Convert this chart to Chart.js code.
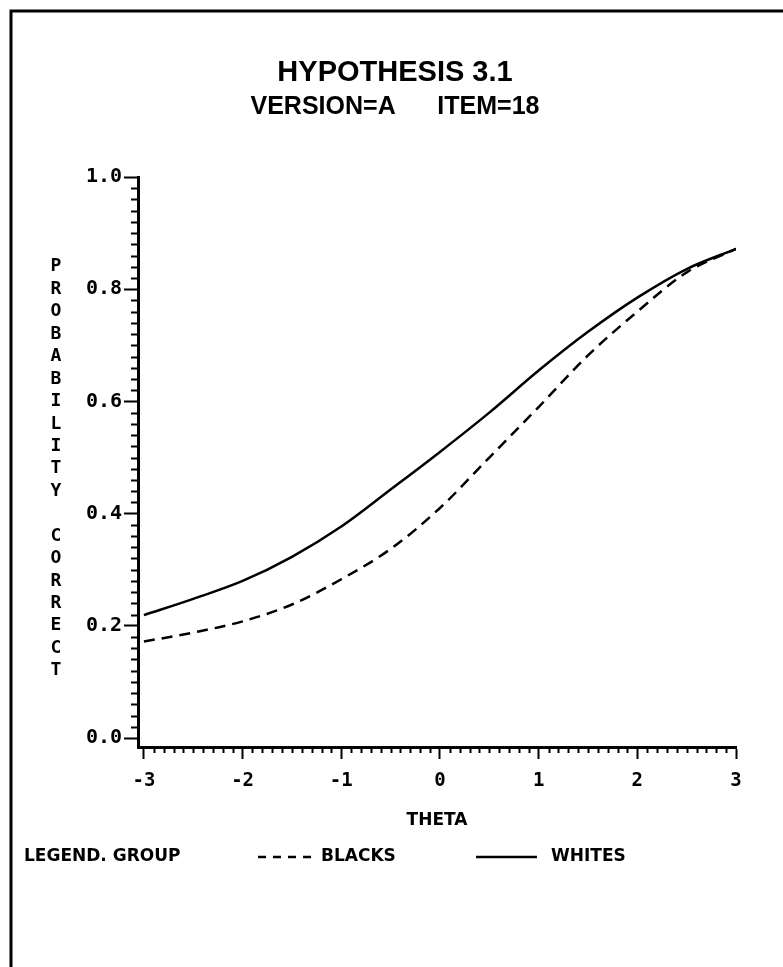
<!DOCTYPE html>
<html>
<head>
<meta charset="utf-8">
<title>Hypothesis 3.1</title>
<script src="https://cdn.jsdelivr.net/npm/chart.js@4.4.0/dist/chart.umd.min.js"></script>
<style>
  html, body { margin: 0; padding: 0; background: #fff; }
  #wrap { width: 783px; height: 967px; }
</style>
</head>
<body>
<div id="wrap"><canvas id="iccChart" width="783" height="967"></canvas></div>
<script>
// Item characteristic curves (theta vs probability correct)
const thetaValues = [-3, -2.5, -2, -1.5, -1, -0.5, 0, 0.5, 1, 1.5, 2, 2.5, 3];
const blacksProb  = [0.172, 0.188, 0.208, 0.238, 0.283, 0.337, 0.41, 0.50, 0.59, 0.682, 0.76, 0.83, 0.872];
const whitesProb  = [0.219, 0.248, 0.280, 0.323, 0.377, 0.443, 0.51, 0.58, 0.655, 0.724, 0.785, 0.836, 0.872];

const xTickValues = [-3, -2, -1, 0, 1, 2, 3];
const yTickValues = [0, 0.2, 0.4, 0.6, 0.8, 1.0];

const titleText = 'HYPOTHESIS 3.1';
const subtitleText = 'VERSION=A      ITEM=18';
const xTitleText = 'THETA';
const yTitleText = 'PROBABILITY CORRECT';
const legendTitle = 'LEGEND. GROUP';
const groupNames = ['BLACKS', 'WHITES'];

const MONO = '"DejaVu Sans Mono", monospace';
const SANS = '"DejaVu Sans", sans-serif';
const HEAD = '"Liberation Sans", Arial, sans-serif';
const INK = '#000';

function toPoints(ys) {
  return thetaValues.map((t, i) => ({ x: t, y: ys[i] }));
}

// white page + the scanned frame lines along top and left edge
const pagePlugin = {
  id: 'page',
  beforeDraw(chart) {
    const ctx = chart.ctx;
    ctx.save();
    ctx.fillStyle = '#fff';
    ctx.fillRect(0, 0, chart.width, chart.height);
    ctx.strokeStyle = INK;
    ctx.lineWidth = 3;
    ctx.beginPath();
    ctx.moveTo(chart.width, 11);
    ctx.lineTo(11, 11);
    ctx.lineTo(11, chart.height);
    ctx.stroke();
    ctx.restore();
  }
};

// minor ticks, stacked y title and the legend row
const extrasPlugin = {
  id: 'extras',
  afterDraw(chart) {
    const ctx = chart.ctx;
    const xs = chart.scales.x;
    const ys = chart.scales.y;
    const area = chart.chartArea;
    ctx.save();
    ctx.strokeStyle = INK;
    ctx.lineWidth = 2;

    // y minor ticks every 0.02
    ctx.beginPath();
    for (let i = 1; i < 50; i++) {
      if (i % 10 === 0) continue;
      const py = Math.round(ys.getPixelForValue(i * 0.02)) + 0.5;
      ctx.moveTo(area.left - 7, py);
      ctx.lineTo(area.left, py);
    }
    // x minor ticks every 0.1
    for (let i = -29; i < 30; i++) {
      if (i % 10 === 0) continue;
      const px = Math.round(xs.getPixelForValue(i / 10)) + 0.5;
      ctx.moveTo(px, area.bottom);
      ctx.lineTo(px, area.bottom + 6);
    }
    ctx.stroke();

    // stacked letters of the y title, one per 1/5 of a major step
    const step = (ys.getPixelForValue(0.6) - ys.getPixelForValue(0.8)) / 5;
    const startY = ys.getPixelForValue(0.8) - step;
    ctx.fillStyle = INK;
    ctx.font = 'bold 18px ' + MONO;
    ctx.textAlign = 'center';
    ctx.textBaseline = 'middle';
    [...yTitleText].forEach((ch, i) => {
      ctx.fillText(ch, 56, startY + i * step);
    });

    // legend row
    const ly = 857;
    ctx.font = 'bold 17px ' + SANS;
    ctx.textAlign = 'left';
    ctx.fillText(legendTitle, 24, ly);

    ctx.lineWidth = 2.5;
    ctx.setLineDash([8, 7]);
    ctx.beginPath();
    ctx.moveTo(258, ly);
    ctx.lineTo(311, ly);
    ctx.stroke();
    ctx.setLineDash([]);
    ctx.fillText(groupNames[0], 321, ly);

    ctx.beginPath();
    ctx.moveTo(476, ly);
    ctx.lineTo(537, ly);
    ctx.stroke();
    ctx.fillText(groupNames[1], 551, ly);
    ctx.restore();
  }
};

new Chart(document.getElementById('iccChart'), {
  type: 'line',
  data: {
    datasets: [
      {
        label: groupNames[0],
        data: toPoints(blacksProb),
        borderColor: INK,
        borderWidth: 2.5,
        borderDash: [11, 7],
        pointRadius: 0,
        cubicInterpolationMode: 'monotone',
        fill: false
      },
      {
        label: groupNames[1],
        data: toPoints(whitesProb),
        borderColor: INK,
        borderWidth: 2.5,
        pointRadius: 0,
        cubicInterpolationMode: 'monotone',
        fill: false
      }
    ]
  },
  options: {
    responsive: false,
    animation: false,
    devicePixelRatio: 1,
    layout: { padding: { left: 54, right: 47, top: 0, bottom: 0 } },
    plugins: {
      legend: { display: false },
      tooltip: { enabled: false },
      title: {
        display: true,
        text: titleText,
        color: INK,
        font: { family: HEAD, size: 29, weight: 'bold', lineHeight: 1.2 },
        padding: { top: 55.6, bottom: 0 }
      },
      subtitle: {
        display: true,
        text: subtitleText,
        color: INK,
        font: { family: HEAD, size: 25, weight: 'bold', lineHeight: 1.2 },
        padding: { top: 1.6, bottom: 55 }
      }
    },
    scales: {
      x: {
        type: 'linear',
        min: -3.06,
        max: 3,
        afterBuildTicks: (scale) => { scale.ticks = xTickValues.map(v => ({ value: v })); },
        afterFit: (scale) => { scale.height = 220; },
        grid: { drawOnChartArea: false, drawTicks: true, tickLength: 12, tickWidth: 2, tickColor: INK },
        border: { display: true, color: INK, width: 3 },
        ticks: {
          color: INK,
          autoSkip: false,
          maxRotation: 0,
          padding: 11,
          font: { family: MONO, size: 19, weight: 'bold' },
          callback: (v) => String(v)
        },
        title: {
          display: true,
          text: xTitleText,
          color: INK,
          font: { family: SANS, size: 17, weight: 'bold', lineHeight: 1.2 },
          padding: { top: 0, bottom: 136 }
        }
      },
      y: {
        type: 'linear',
        min: -0.016,
        max: 1,
        afterBuildTicks: (scale) => { scale.ticks = yTickValues.map(v => ({ value: v })); },
        afterFit: (scale) => { scale.width = 84; },
        grid: { drawOnChartArea: false, drawTicks: true, tickLength: 14, tickWidth: 2, tickColor: INK },
        border: { display: true, color: INK, width: 3 },
        ticks: {
          color: INK,
          padding: 2,
          font: { family: MONO, size: 20, weight: 'bold' },
          callback: (v) => v.toFixed(1)
        }
      }
    }
  },
  plugins: [pagePlugin, extrasPlugin]
});
</script>
</body>
</html>
